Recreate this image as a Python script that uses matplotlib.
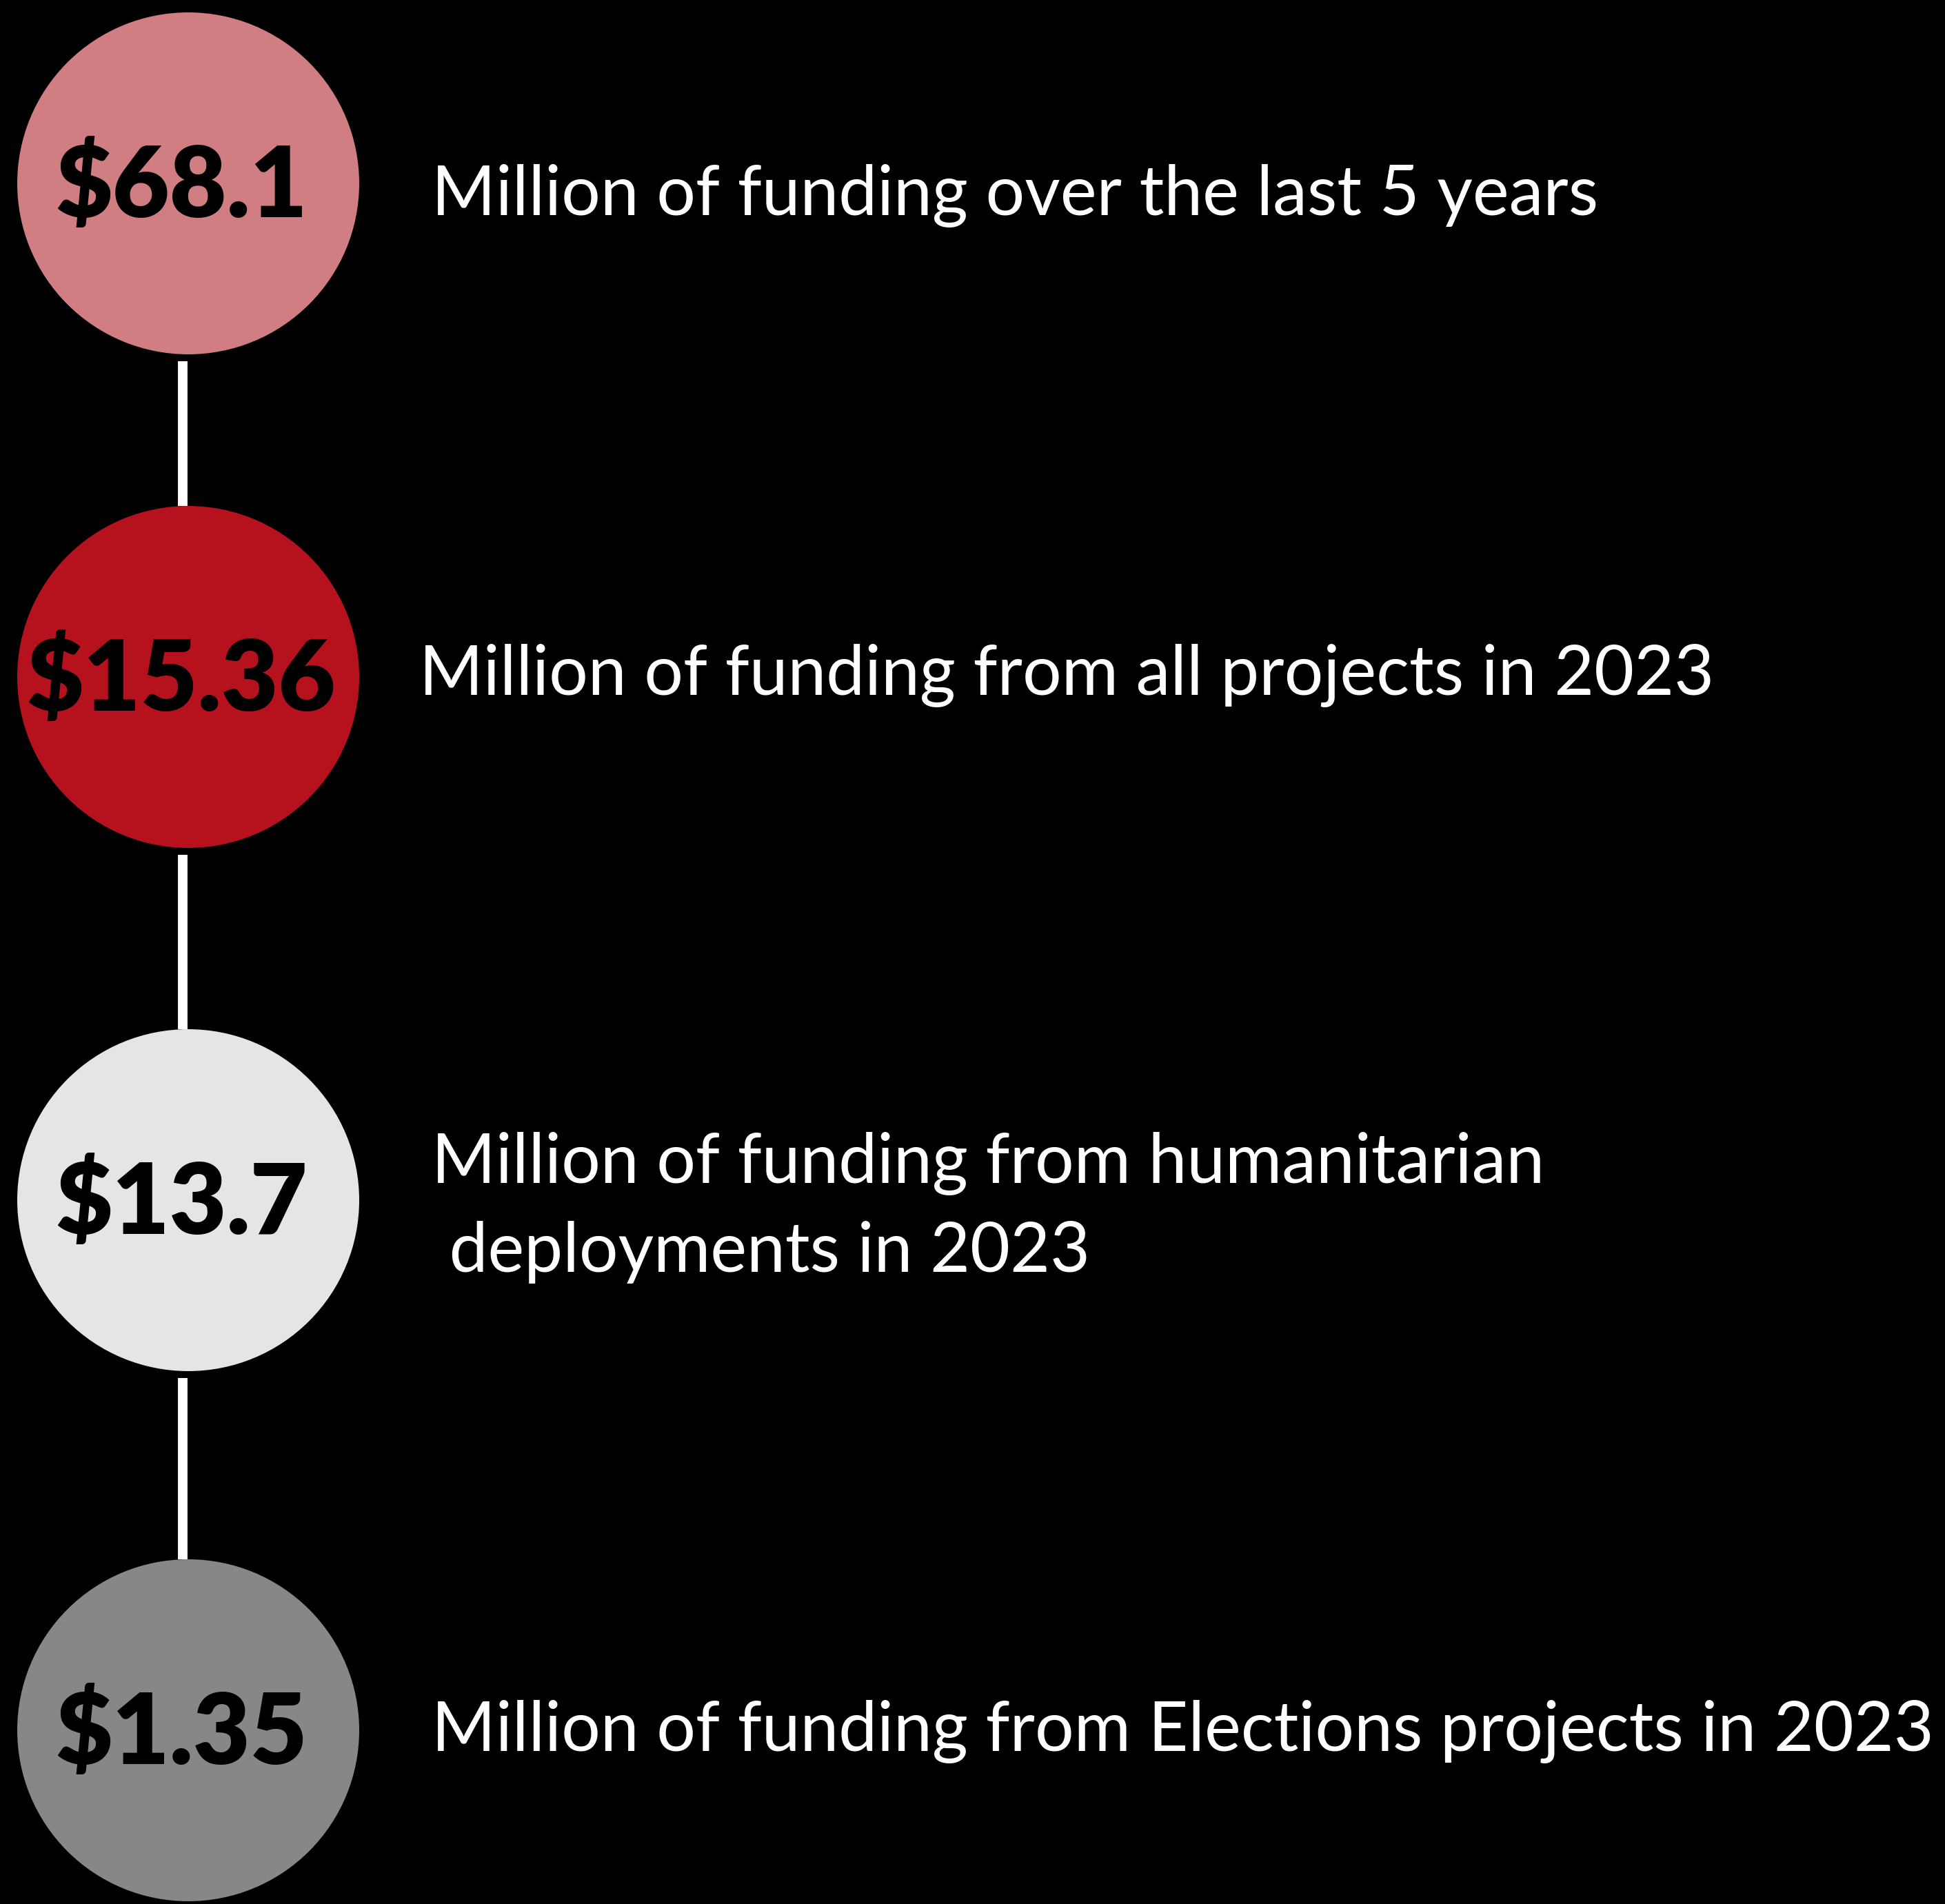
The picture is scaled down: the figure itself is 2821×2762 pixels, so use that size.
import matplotlib.pyplot as plt
from matplotlib.patches import Circle

# Datos de la infografia
valores = ["$68.1", "$15.36", "$13.7", "$1.35"]
descripciones = [
    "Million of funding over the last 5 years",
    "Million of funding from all projects in 2023",
    "Million of funding from humanitarian\n deployments in 2023",
    "Million of funding from Elections projects in 2023",
]
colores = ["#D07E81", "#B5121E", "#E5E5E5", "#878787"]

# Posiciones (pixeles)
centros_y = [266, 982, 1741, 2510]
centro_x = 273
radio = 248
texto_x = [626, 608, 626, 626]
texto_y = [284, 980, 1752, 2512]

W, H = 2821, 2762
fig = plt.figure(figsize=(W / 100, H / 100), dpi=100, facecolor="black")
ax = fig.add_axes([0, 0, 1, 1])
ax.set_xlim(0, W)
ax.set_ylim(H, 0)
ax.set_facecolor("black")
ax.axis("off")

# Lineas de conexion
for i in range(len(centros_y) - 1):
    ax.plot([265, 265], [centros_y[i] + radio + 10, centros_y[i + 1] - radio],
            color="white", linewidth=10, solid_capstyle="butt", zorder=1)

for i, (v, d, c) in enumerate(zip(valores, descripciones, colores)):
    ax.add_patch(Circle((centro_x, centros_y[i]), radio, facecolor=c,
                        edgecolor="none", zorder=2))
    ax.text(centro_x - 10, centros_y[i] + 5, v, ha="center", va="center",
            fontsize=103, fontweight="heavy", family="Lato", color="black", zorder=3)
    ax.text(texto_x[i], texto_y[i], d, ha="left", va="center",
            fontsize=72, family="Lato", color="white", linespacing=1.5)

fig.savefig("out.png", dpi=100, facecolor="black")
